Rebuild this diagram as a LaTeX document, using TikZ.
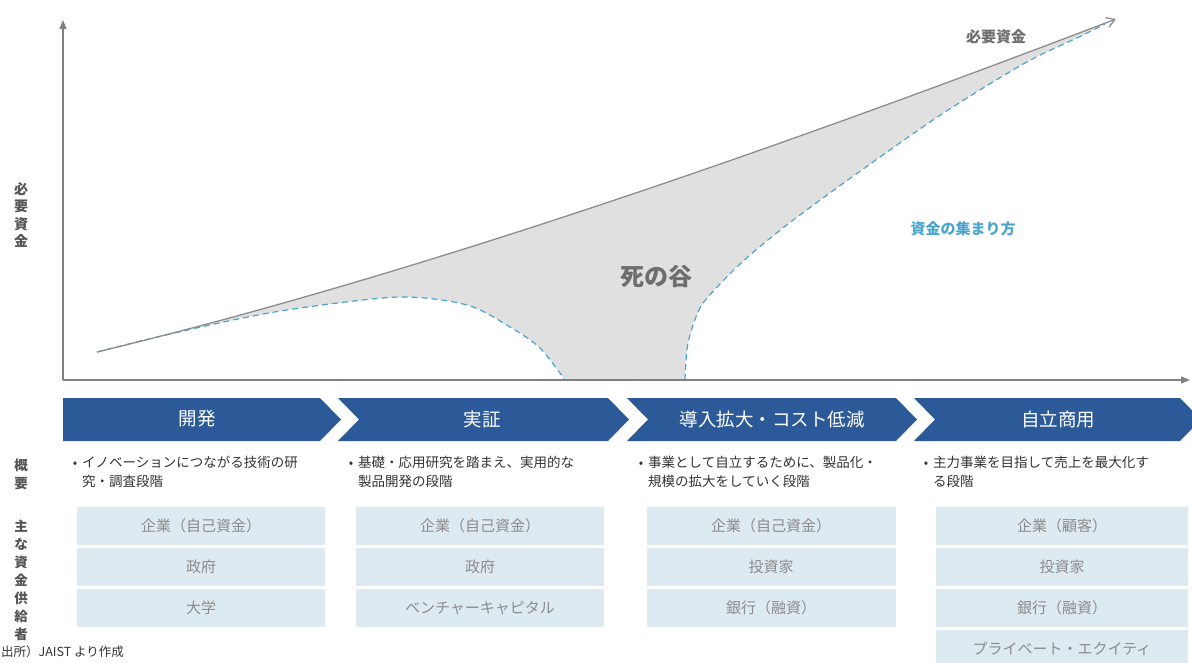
\documentclass[tikz,border=0pt]{standalone}
\usepackage{fontspec}
\setmainfont{Noto Sans CJK JP}
\usetikzlibrary{arrows.meta}
\definecolor{chev}{RGB}{44,90,152}
\definecolor{boxfill}{RGB}{222,234,241}
\definecolor{boxtext}{RGB}{140,140,140}
\definecolor{axisgray}{RGB}{128,128,128}
\definecolor{labgray}{RGB}{110,110,110}
\definecolor{sidegray}{RGB}{85,85,85}
\definecolor{valley}{RGB}{224,224,224}
\definecolor{dashblue}{RGB}{75,165,205}
\definecolor{desctext}{RGB}{50,50,50}
\begin{document}
\begin{tikzpicture}[x=1pt,y=-1pt,
  axisline/.style={draw=axisgray,line width=1.2pt,-{Triangle[length=9pt,width=7pt]}},
  needline/.style={draw=axisgray!90,line width=1.3pt,-{Straight Barb[length=8pt,width=10pt]}},
  gather/.style={draw=dashblue,line width=1.2pt,dash pattern=on 6pt off 4pt},
  chevbox/.style={fill=chev},
  chevlabel/.style={text=white,font=\fontsize{18.5}{19}\selectfont,anchor=center},
  supbox/.style={fill=boxfill,draw=none,minimum height=38pt,inner sep=0pt,text=boxtext,font=\fontsize{15}{15}\selectfont},
  desc/.style={text=desctext,font=\fontsize{13.5}{19}\selectfont,anchor=north west,inner sep=0pt,align=left},
  bul/.style={text=desctext,font=\fontsize{13}{13}\selectfont,anchor=center,inner sep=0pt},
  sidelab/.style={text=sidegray,font=\bfseries\fontsize{14}{17.5}\selectfont,align=center,inner sep=0pt}
]
\useasboundingbox (0,0) rectangle (1192,662);

% axes
\coordinate (o) at (63,380);
\coordinate (ytop) at (63,20);
\coordinate (xend) at (1190,380);

% valley fill
\fill[valley] (97,352) .. controls (400,279) and (750,159) .. (1115,20) -- (1105,24)
  -- plot[smooth] coordinates {(1105,24) (1079,37) (1025,63) (942,114) (859,172) (792,221) (750,255) (720,284) (700,308) (688,343) (685,380)}
  -- (565,380)
  -- plot[smooth] coordinates {(565,380) (540,348) (510,327) (467,305) (400,297) (300,308) (233,320) (153,338) (97,352)}
  -- cycle;

% dashed gathering curve
\draw[gather] plot[smooth] coordinates {(97,352) (153,338) (233,320) (300,308) (400,297) (467,305) (510,327) (540,348) (565,380)};
\draw[gather] plot[smooth] coordinates {(685,380) (688,343) (700,308) (720,284) (750,255) (792,221) (859,172) (942,114) (1025,63) (1079,37) (1105,24)};

% required funding line
\coordinate (n0) at (97,352);
\coordinate (n1) at (1116,19);
\draw[needline] (n0) .. controls (400,279) and (750,159) .. (n1);

\draw[axisline] (o) -- (ytop);
\draw[axisline] (o) -- (xend);

% labels in chart
\node[text=labgray,font=\bfseries\fontsize{15}{15}\selectfont] (lneed) at (996,37) {必要資金};
\node[text=dashblue,font=\bfseries\fontsize{15}{15}\selectfont] (lgather) at (963,229) {資金の集まり方};
\node[text=labgray,font=\bfseries\fontsize{24}{24}\selectfont] (lvalley) at (656,276) {死の谷};
\node[sidelab] (ylab) at (21,215) {必\\要\\資\\金};

% chevrons
\fill[chevbox] (63,398) -- (320,398) -- (341,419.5) -- (320,441) -- (63,441) -- cycle;
\fill[chevbox] (338,398) -- (608,398) -- (629,419.5) -- (608,441) -- (338,441) -- (359,419.5) -- cycle;
\fill[chevbox] (627,398) -- (896,398) -- (917,419.5) -- (896,441) -- (627,441) -- (648,419.5) -- cycle;
\fill[chevbox] (914,398) -- (1180,398) -- (1201,419.5) -- (1180,441) -- (914,441) -- (935,419.5) -- cycle;
\node[chevlabel] (c1) at (197,419) {開発};
\node[chevlabel] (c2) at (482,419) {実証};
\node[chevlabel] (c3) at (772,419) {導入拡大・コスト低減};
\node[chevlabel] (c4) at (1058,419) {自立商用};

% side labels
\node[sidelab,font=\bfseries\fontsize{13.5}{18}\selectfont] (lgai) at (21,474) {概\\要};
\node[sidelab,font=\bfseries\fontsize{13.5}{18}\selectfont] (lsup) at (21,580) {主\\な\\資\\金\\供\\給\\者};

% descriptions
\node[bul] (b1) at (75,465) {•};
\node[desc] (d1) at (82,456) {イノベーションにつながる技術の研\\究・調査段階};
\node[bul] (b2) at (351,465) {•};
\node[desc] (d2) at (358,456) {基礎・応用研究を踏まえ、実用的な\\製品開発の段階};
\node[bul] (b3) at (641,465) {•};
\node[desc] (d3) at (648,456) {事業として自立するために、製品化・\\規模の拡大をしていく段階};
\node[bul] (b4) at (926,465) {•};
\node[desc] (d4) at (933,456) {主力事業を目指して売上を最大化す\\る段階};

% supplier boxes
\node[supbox,minimum width=248pt] (s11) at (201,526) {企業（自己資金）};
\node[supbox,minimum width=248pt] (s12) at (201,567) {政府};
\node[supbox,minimum width=248pt] (s13) at (201,608) {大学};

\node[supbox,minimum width=248pt] (s21) at (480,526) {企業（自己資金）};
\node[supbox,minimum width=248pt] (s22) at (480,567) {政府};
\node[supbox,minimum width=248pt] (s23) at (480,608) {ベンチャーキャピタル};

\node[supbox,minimum width=249pt] (s31) at (771,526) {企業（自己資金）};
\node[supbox,minimum width=249pt] (s32) at (771,567) {投資家};
\node[supbox,minimum width=249pt] (s33) at (771,608) {銀行（融資）};

\node[supbox,minimum width=252pt] (s41) at (1062,526) {企業（顧客）};
\node[supbox,minimum width=252pt] (s42) at (1062,567) {投資家};
\node[supbox,minimum width=252pt] (s43) at (1062,608) {銀行（融資）};
\node[supbox,minimum width=252pt] (s44) at (1062,649) {プライベート・エクイティ};

% source
\node[text=desctext,font=\fontsize{12.5}{13}\selectfont,anchor=west,inner sep=0pt] (src) at (1,652) {出所）JAIST より作成};
\end{tikzpicture}
\end{document}
